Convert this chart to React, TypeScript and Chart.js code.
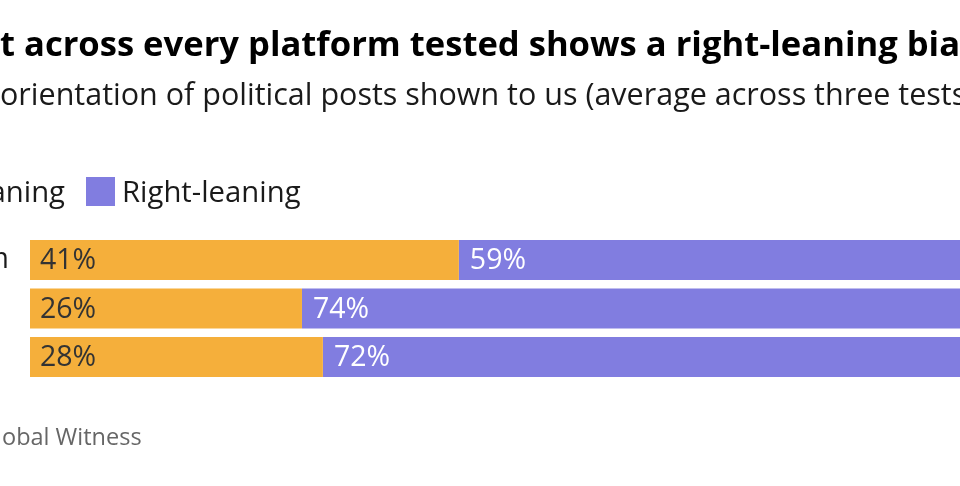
import React, { useEffect, useRef } from "react";
import { Chart, registerables } from "chart.js";

Chart.register(...registerables);

// ---- data ----
const categories = ["Instagram", "TikTok", "X"];
const seriesNames = ["Left-leaning", "Right-leaning"];
const leftLeaning = [41, 26, 28];
const rightLeaning = [59, 74, 72];
const seriesColors = ["#f5af3b", "#817de0"];
const labelColors = ["#333333", "#ffffff"];

const titleText = "Content across every platform tested shows a right-leaning bias";
const subtitleText =
  "Political orientation of political posts shown to us (average across three tests)";
const sourceText = "Source: Global Witness";

const FONT = "'Open Sans', 'Noto Sans', sans-serif";

const overlayPlugin = {
  id: "overlay",
  afterDraw(chart: any) {
    const ctx: CanvasRenderingContext2D = chart.ctx;
    ctx.save();
    ctx.textAlign = "left";
    ctx.textBaseline = "alphabetic";

    // Title (left-cropped in the frame)
    ctx.font = `700 34.6px ${FONT}`;
    ctx.fillStyle = "#000000";
    ctx.fillText(titleText, -ctx.measureText("Conten").width, 56);

    // Subtitle
    ctx.font = `400 30.5px ${FONT}`;
    ctx.fillStyle = "#1a1a1a";
    ctx.fillText(subtitleText, -ctx.measureText("Political ").width, 105);

    // Legend
    const sw = 29;
    ctx.font = `400 29.3px ${FONT}`;
    const rightSwatchX = 86;
    const gap = 7;
    const leftTextEnd = 65;
    const leftTextX = leftTextEnd - ctx.measureText(seriesNames[0]).width;
    const items = [
      { sx: leftTextX - gap - sw, tx: leftTextX },
      { sx: rightSwatchX, tx: rightSwatchX + sw + gap },
    ];
    chart.data.datasets.forEach((ds: any, i: number) => {
      ctx.fillStyle = ds.backgroundColor;
      ctx.fillRect(items[i].sx, 177, sw, sw);
      ctx.fillStyle = "#1a1a1a";
      ctx.fillText(ds.label, items[i].tx, 202);
    });

    // Category labels (left aligned, cropped)
    const yScale = chart.scales.y;
    ctx.font = `400 28.5px ${FONT}`;
    ctx.fillStyle = "#1a1a1a";
    ctx.textBaseline = "middle";
    const labelX = 9 - ctx.measureText(categories[0]).width;
    chart.data.labels.forEach((lab: string, i: number) => {
      ctx.fillText(lab, labelX, yScale.getPixelForValue(i));
    });

    // Source
    ctx.textBaseline = "alphabetic";
    ctx.font = `400 23.5px ${FONT}`;
    ctx.fillStyle = "#666666";
    ctx.fillText(sourceText, -ctx.measureText("Source: Gl").width + 2, 445);

    ctx.restore();
  },
  afterDatasetsDraw(chart: any) {
    const ctx: CanvasRenderingContext2D = chart.ctx;
    ctx.save();
    ctx.font = `400 28.5px ${FONT}`;
    ctx.textAlign = "left";
    ctx.textBaseline = "middle";
    chart.data.datasets.forEach((ds: any, di: number) => {
      const meta = chart.getDatasetMeta(di);
      meta.data.forEach((el: any, i: number) => {
        const left = Math.min(el.base, el.x);
        ctx.fillStyle = labelColors[di];
        ctx.fillText(`${ds.data[i]}%`, left + (di === 0 ? 10 : 11), el.y + 1);
      });
    });
    ctx.restore();
  },
};

export default function App() {
  const ref = useRef<HTMLCanvasElement | null>(null);

  useEffect(() => {
    if (!ref.current) return;
    const chart = new Chart(ref.current, {
      type: "bar",
      data: {
        labels: categories,
        datasets: [
          {
            label: seriesNames[0],
            data: leftLeaning,
            backgroundColor: seriesColors[0],
            borderWidth: 0,
            barPercentage: 0.825,
            categoryPercentage: 1,
          },
          {
            label: seriesNames[1],
            data: rightLeaning,
            backgroundColor: seriesColors[1],
            borderWidth: 0,
            barPercentage: 0.825,
            categoryPercentage: 1,
          },
        ],
      },
      options: {
        indexAxis: "y",
        responsive: false,
        animation: false,
        devicePixelRatio: 1,
        layout: { padding: { top: 235.75, bottom: 104.75, left: 30, right: 24 } },
        scales: {
          x: { display: false, stacked: true, min: 0, max: 100 },
          y: { display: false, stacked: true },
        },
        plugins: {
          legend: { display: false },
          title: { display: false },
          tooltip: { enabled: false },
        },
      },
      plugins: [overlayPlugin],
    } as any);
    return () => chart.destroy();
  }, []);

  return (
    <div
      style={{
        position: "fixed",
        left: 0,
        top: 0,
        width: 960,
        height: 486,
        overflow: "hidden",
        background: "#ffffff",
      }}
    >
      <canvas ref={ref} width={1100} height={486} style={{ display: "block" }} />
    </div>
  );
}
